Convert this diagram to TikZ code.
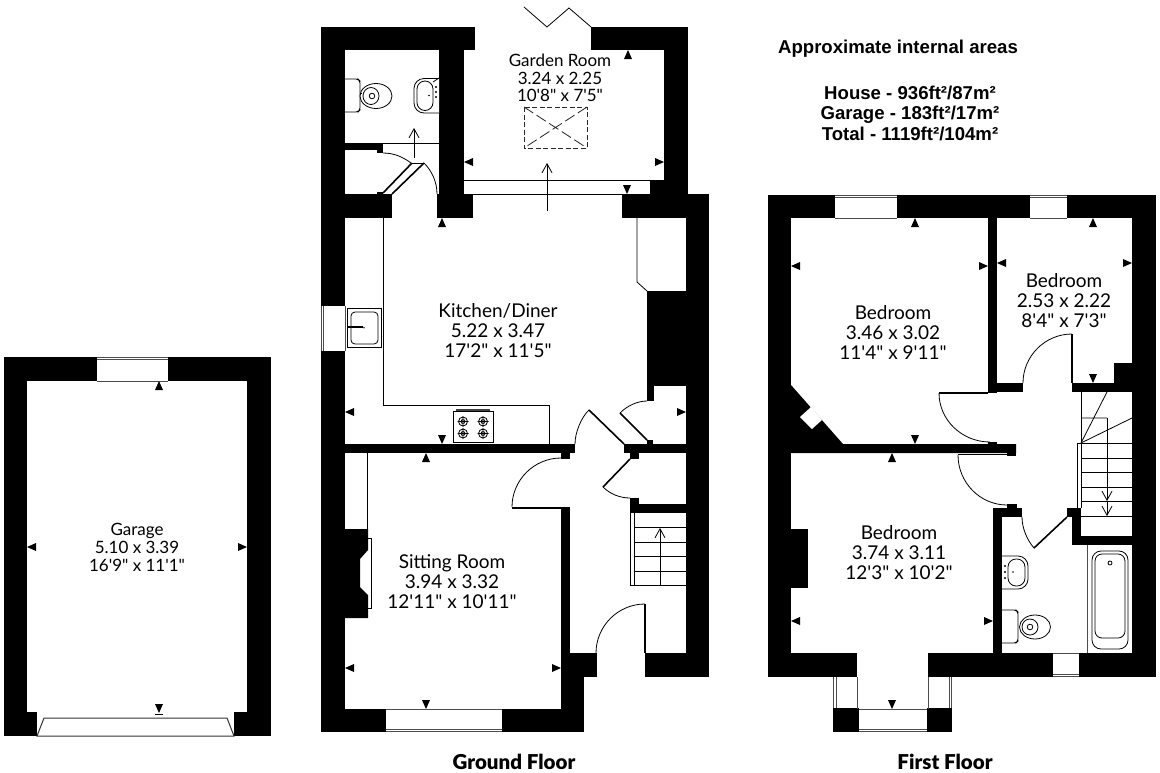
\documentclass[tikz,border=0pt]{standalone}
\usepackage{fontspec}
\usetikzlibrary{calc,arrows.meta}
\newfontfamily\gill{Lato}
\newfontfamily\gillb{Lato Black}
\newfontfamily\arialb{Liberation Sans Bold}
\tikzset{
  x=1pt,y=-1pt,
  wall/.style={fill=black,draw=none},
  thinline/.style={draw=black,line width=0.8pt},
  greyline/.style={draw=black!70,line width=0.7pt},
  leaf/.style={draw=black,line width=1.6pt},
  fixture/.style={draw=black,line width=0.8pt,fill=white},
  glass/.style={fill=white,draw=none},
  flight/.style={draw=black,line width=0.8pt,-{Straight Barb[length=9pt,width=10pt,line width=0.8pt]}},
  roomlabel/.style={font=\gill\fontsize{19}{20}\selectfont,align=center,text=black,inner sep=0pt},
  smalllabel/.style={font=\gill\fontsize{17}{17.6}\selectfont,align=center,text=black,inner sep=0pt},
  headlabel/.style={font=\arialb\fontsize{18.6}{20.5}\selectfont,align=center,inner sep=0pt},
  floorlabel/.style={font=\gillb\fontsize{20.5}{22}\selectfont,anchor=base,inner sep=0pt},
}
\newcommand\triU[2]{\fill (#1,#2) -- ++(-4,9) -- ++(8,0) -- cycle;}
\newcommand\triD[2]{\fill (#1,#2) -- ++(-4,-9) -- ++(8,0) -- cycle;}
\newcommand\triL[2]{\fill (#1,#2) -- ++(9,-4) -- ++(0,8) -- cycle;}
\newcommand\triR[2]{\fill (#1,#2) -- ++(-9,-4) -- ++(0,8) -- cycle;}
\newcommand\wl[4]{\fill[wall] (#1,#2) rectangle (#3,#4);}
% window pieces: white panel, inner edge line, double glazing line on the outer side
\newcommand\winTop[4]{\fill[glass] (#1,#2) rectangle (#3,#4);
  \draw[greyline] (#1,#4) -- (#3,#4) (#1,#2+0.7) -- (#3,#2+0.7) (#1,#2+2.8) -- (#3,#2+2.8);}
\newcommand\winBot[4]{\fill[glass] (#1,#2) rectangle (#3,#4);
  \draw[greyline] (#1,#2) -- (#3,#2) (#1,#4-0.7) -- (#3,#4-0.7) (#1,#4-2.8) -- (#3,#4-2.8);}
\newcommand\qd[3]{\draw[thinline] (#1) .. controls ($(#1)!.55!(#2)$) and ($(#3)!.55!(#2)$) .. (#3);}
\begin{document}
\begin{tikzpicture}
\useasboundingbox (0,0) rectangle (1160,772);
\fill[white] (0,0) rectangle (1160,772);

%% ---------- GARAGE ----------
\wl{3.5}{357}{271}{381}
\wl{3.5}{357}{27}{736}
\wl{247}{357}{271}{736}
\wl{27}{712}{37}{736}
\wl{234}{712}{247}{736}
\winTop{97}{357}{168}{381}
\draw[black!80,line width=1pt] (37,736) -- (44,718) -- (227,718) -- (234,736) -- cycle;
\triU{159}{381}\triD{159}{713}
\draw[line width=0.8pt] (155,714) -- (163,714);
\triL{27}{547}\triR{247}{547}
\node[smalllabel] (garage) at (137,547.5) {Garage\\5.10 x 3.39\\16'9" x 11'1"};

%% ---------- GROUND FLOOR WALLS ----------
\wl{321}{27}{475}{50}
\wl{321}{27}{345}{732}
\wl{439}{27}{464}{218}
\wl{591}{27}{688}{50}
\wl{664}{27}{688}{218}
\wl{650}{180}{664}{195}
\wl{345}{194}{392}{218}
\wl{377}{192}{383}{194}
\wl{437}{194}{473}{218}
\wl{622}{194}{709}{218}
\wl{686}{194}{709}{677}
\wl{647}{291}{686}{386}
\wl{647}{386}{654}{401}
\wl{345}{444}{575}{453}
\wl{561}{453}{570}{459}
\wl{624}{444}{686}{453}
\wl{630}{453}{639}{459}
\wl{647}{440}{653}{444}
\wl{630}{498}{639}{513}
\wl{630}{504}{686}{513}
\wl{561}{507}{570}{653}
\wl{561}{653}{597}{677}
\wl{561}{677}{584}{732}
\wl{321}{709}{584}{732}
\wl{645}{653}{709}{677}
\wl{345}{143}{383}{150}
\wl{377}{150}{383}{153}
% chimney breast, sitting room
\fill[wall] (345,529) -- (368,529) -- (368,550) -- (360,559) -- (360,587) -- (368,595) -- (368,618) -- (345,618) -- cycle;
\draw[thinline] (368,538) -- (371,538) -- (371,608) -- (368,608);
\draw[thinline] (367.5,453) -- (367.5,529);
% windows
\winBot{386}{709}{502}{732}
\fill[glass] (321,306) rectangle (345,351);
\draw[greyline] (345,306) -- (345,351) (321.7,306) -- (321.7,351) (323.8,306) -- (323.8,351);

%% ---------- GROUND FLOOR DOORS ----------
\draw[leaf] (624,444) -- (589,410);
\qd{575,444}{575,423}{589,410}
\draw[leaf] (647,440) -- (620,413);
\draw[thinline] (620,413) .. controls (627,406) and (637,401) .. (647,401);
\draw[leaf] (561,508) -- (512,508);
\qd{561,458}{512,458}{512,507}
\draw[leaf] (630,459) -- (603,487);
\draw[thinline] (603,487) .. controls (610,494) and (620,498) .. (630,498);
\draw[leaf] (645,604) -- (645,653);
\qd{645,604}{596,604}{596,653}
% WC double door
\draw[leaf] (383,193) -- (412,163);
\draw[leaf] (392,194) -- (424,163);
\draw[thinline] (412,163) -- (424,163);
\draw[thinline] (383,153) .. controls (394,153) and (403,157) .. (411,163);
\draw[thinline] (424,163) .. controls (432,171) and (437,182) .. (437,194);
% thin lines
\draw[thinline] (383,143) -- (439,143);
\draw[flight] (414,158) -- (414,128);
\draw[thinline] (464,180.5) -- (650,180.5);
\draw[thinline] (464,194.5) -- (622,194.5);
\draw[flight] (547,211) -- (547,163);
\draw[thinline] (383,218) -- (383,405) -- (549,405) -- (549,444);
\draw[thinline] (637,218) -- (637,282) -- (647,291);
% folding door
\draw[thinline] (524,7) -- (547,27) -- (569,8) -- (591,27);
% rooflight
\draw[black!85,dash pattern=on 5pt off 2.5pt,line width=0.9pt] (524,107) rectangle (587,148);
\draw[black!85,dash pattern=on 11pt off 4pt,line width=0.8pt] (524,107) -- (587,148) (587,107) -- (524,148);
% stairs
\draw[thinline] (630,513) -- (630,585) -- (686,585) (634,513) -- (634,585)
  (634,527) -- (686,527) (634,542) -- (686,542) (634,556) -- (686,556) (634,571) -- (686,571);
\draw[flight] (660,585) -- (660,528);

%% ---------- GROUND FLOOR FIXTURES ----------
% WC
\draw[fixture,rounded corners=2pt] (345,79) -- (358,79) -- (360,81) -- (360,110) -- (358,112) -- (345,112);
\draw[fixture] (376,96) ellipse[x radius=16,y radius=12.5];
\draw[fixture] (371,96) ellipse[x radius=8,y radius=8.5];
\draw[fixture] (372,96) circle[radius=2.8];
\draw[fixture] (360,93.5) -- (362,93.5);
% basin
\draw[fixture,rounded corners=10pt] (439,78.5) -- (414,78.5) -- (414,113) -- (439,113);
\draw[fixture,rounded corners=8pt] (433,81) -- (417,81) -- (417,110.5) -- (433,110.5) -- cycle;
\fill (429,95.5) circle[radius=0.8] (436,87) circle[radius=1.2] (436,92) circle[radius=1.2] (436,97) circle[radius=1.2];
\draw[thinline] (439,78) -- (433,82);
% sink
\draw[fixture] (347,308) rectangle (381,347);
\draw[fixture,rounded corners=4pt] (351,312) rectangle (378,344);
\draw[black,line width=1.8pt] (348,327) -- (363,327);
\fill[black!70] (364,327.5) circle[radius=1];
% hob
\draw[fixture] (453,411) rectangle (493,442);
\fill[black!75] (456,408.5) rectangle (490,411);
\foreach \hx/\hy in {463/421.5,483/421.5,463/433.5,483/433.5}{
  \draw[thinline] (\hx,\hy) circle[radius=4.5] (\hx,\hy) circle[radius=2]
    (\hx-5.5,\hy) -- (\hx+5.5,\hy) (\hx,\hy-5.5) -- (\hx,\hy+5.5);
}
% dimension markers
\triU{628}{50}\triL{464}{162}\triR{664}{162}\triD{627}{194}
\triU{442}{218}\triL{345}{412}\triR{686}{412}\triD{442}{444}
\triU{426}{453}\triL{345}{668}\triR{561}{668}\triD{426}{709}

%% ---------- FIRST FLOOR WALLS ----------
\wl{768}{195}{1156}{218}
\wl{768}{195}{791}{677}
\wl{1132}{195}{1156}{677}
\wl{988}{218}{997}{393}
\wl{997}{383}{1023}{392}
\wl{1072}{383}{1132}{392}
\wl{1114}{363}{1132}{383}
\fill[wall] (791,385) -- (843,444) -- (1016,444) -- (1016,453) -- (791,453) -- cycle;
\wl{1007}{453}{1016}{456}
\wl{988}{442}{997}{444}
\fill[glass] (800,417) -- (811,407) -- (822,420) -- (812,429) -- cycle;
\wl{791}{529}{808}{588}
\wl{993}{508}{1002}{653}
\wl{993}{508}{1022}{517}
\wl{1007}{504}{1017}{508}
\wl{1067}{508}{1081}{517}
\wl{1072}{517}{1081}{545}
\wl{1072}{536}{1132}{545}
\wl{768}{653}{857}{677}
\wl{928}{653}{1156}{677}
\wl{833}{708}{859}{732}
\wl{927}{708}{952}{732}
\winTop{835}{195}{897}{218}
\winTop{1030}{195}{1067}{218}
\winBot{1053}{653}{1079}{677}
\winBot{859}{709}{927}{732}
% bay side lights
\draw[greyline] (833.7,677) -- (833.7,708) (836,677) -- (836,708) (857,677) -- (857,709);
\draw[greyline] (951.3,677) -- (951.3,708) (949,677) -- (949,708) (928,677) -- (928,709);

%% ---------- FIRST FLOOR DOORS ----------
\draw[thinline,line width=1.1pt] (939,393) -- (988,393);
\qd{939,393}{939,442}{990,442}
\draw[leaf] (1072,334) -- (1072,383);
\qd{1072,334}{1023,334}{1023,383}
\draw[thinline] (958,454.5) -- (1007,454.5);
\qd{958,455}{958,505}{1007,505}
\draw[leaf] (1034,548) -- (1067,517);
\draw[thinline] (1022,517) .. controls (1022,528) and (1027,540) .. (1034,548);

%% ---------- FIRST FLOOR STAIRS ----------
\draw[thinline] (1081,392) -- (1081,508) (1077,443) -- (1077,508);
\draw[thinline] (1077,443) -- (1132,443) (1081,458) -- (1132,458) (1081,472) -- (1132,472)
  (1081,487) -- (1132,487) (1081,501) -- (1132,501) (1081,516) -- (1132,516);
\draw[thinline] (1081,418) -- (1107,418) (1081,443) -- (1107,392) (1081,443) -- (1132,418);
\draw[flight] (1107,418) -- (1107,501);
\draw[flight] (1107,501) -- (1107,516);

%% ---------- FIRST FLOOR FIXTURES ----------
\draw[greyline] (1087,545) -- (1087,653);
\draw[fixture,rounded corners=9pt] (1092,551) rectangle (1128,649);
\draw[fixture,rounded corners=7pt] (1095,554) rectangle (1125,638);
\draw[fixture] (1110,563) circle[radius=2];
% basin
\draw[fixture,rounded corners=10pt] (1002,556) -- (1028,556) -- (1028,589) -- (1002,589);
\draw[fixture,rounded corners=8pt] (1008,559) -- (1025,559) -- (1025,586) -- (1008,586) -- cycle;
\fill (1013,572) circle[radius=0.8] (1005,566) circle[radius=1.2] (1005,572) circle[radius=1.2] (1005,578) circle[radius=1.2];
% WC
\draw[fixture,rounded corners=2pt] (1002,610) -- (1016,610) -- (1018,612) -- (1018,641) -- (1016,643) -- (1002,643);
\draw[fixture] (1035,627) ellipse[x radius=15.5,y radius=12];
\draw[fixture] (1030,627) ellipse[x radius=8,y radius=8];
\draw[fixture] (1030,627) circle[radius=2.8];
% dimension markers
\triU{915}{218}\triL{791}{266}\triR{988}{266}\triD{915}{444}
\triU{1093}{218}\triL{997}{263}\triR{1132}{263}\triD{1093}{383}
\triU{892}{453}\triL{791}{621}\triR{993}{621}\triD{892}{709}

%% ---------- LABELS ----------
\node[smalllabel] (gardenroom) at (560,78) {Garden Room\\3.24 x 2.25\\10'8" x 7'5"};
\node[roomlabel] (kitchen) at (498,331) {Kitchen/Diner\\5.22 x 3.47\\17'2" x 11'5"};
\node[roomlabel] (sitting) at (452,582) {Sitting Room\\3.94 x 3.32\\12'11" x 10'11"};
\node[roomlabel] (bedone) at (893,332) {Bedroom\\3.46 x 3.02\\11'4" x 9'11"};
\node[roomlabel] (bedtwo) at (1064,301) {Bedroom\\2.53 x 2.22\\8'4" x 7'3"};
\node[roomlabel] (bedthree) at (899,553) {Bedroom\\3.74 x 3.11\\12'3" x 10'2"};
\node[headlabel] (areas) at (898,49) {Approximate internal areas};
\node[headlabel] (totals) at (910,113) {House - 936ft²/87m²\\Garage - 183ft²/17m²\\Total - 1119ft²/104m²};
\node[floorlabel] (ground) at (514,769.5) {Ground Floor};
\node[floorlabel] (first) at (945,769.5) {First Floor};
\end{tikzpicture}
\end{document}
